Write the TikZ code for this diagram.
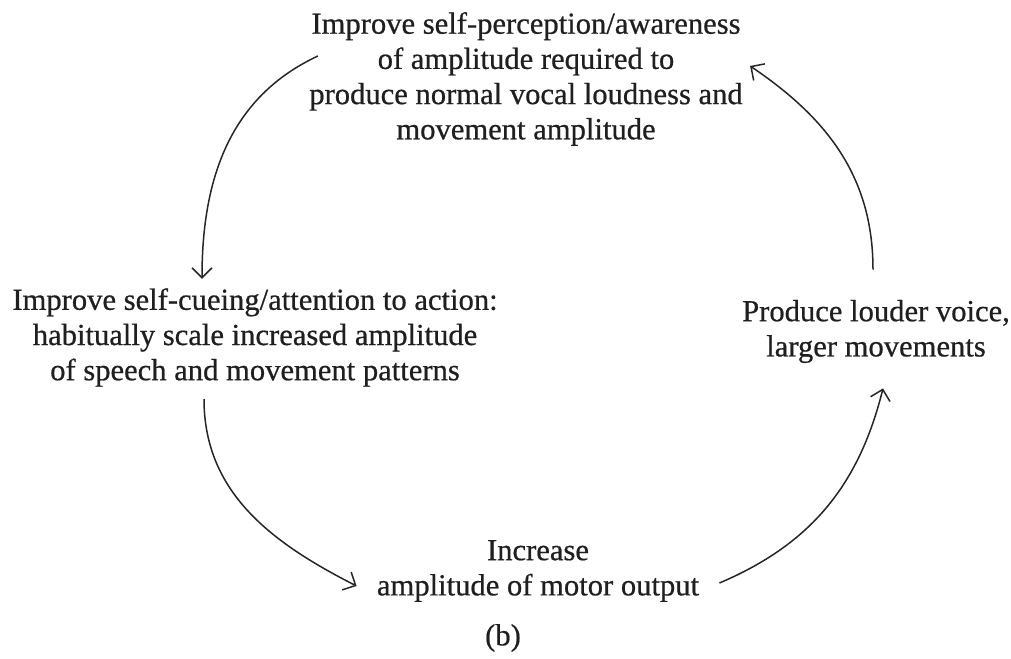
\documentclass[tikz,border=0pt]{standalone}
\usepackage{fontspec}
\setmainfont[FakeBold=0.6]{Liberation Serif}
\usetikzlibrary{arrows.meta}

\tikzset{
	stage/.style={align=center, inner sep=0pt, text=black!88, font=\fontsize{15.3}{17.6}\selectfont},
	looparrow/.style={-{Straight Barb[length=5pt, width=10pt]}, line width=0.75pt, color=black!85},
}

\begin{document}
\begin{tikzpicture}[x=0.5pt, y=0.5pt]
			%%%%% START %%%%%
			\useasboundingbox (0, 0) rectangle (1011, 658);
			
			\node[stage] (perceive) at (526, 579) {Improve self-perception/awareness\\of amplitude required to\\produce normal vocal loudness and\\movement amplitude};
			\node[stage] (cueing) at (255, 320.5) {Improve self-cueing/attention to action:\\habitually scale increased amplitude\\of speech and movement patterns};
			\node[stage] (louder) at (876, 326.5) {Produce louder voice,\\larger movements};
			\node[stage] (motor) at (538, 87) {Increase\\amplitude of motor output};
			
			\node[stage] (caption) at (503, 20) {(b)};
			
			%%%%% CYCLE %%%%%
			\draw[looparrow] ([xshift=4.5pt, yshift=11.5pt]perceive.west) to[out=205, in=90] ([xshift=-26.5pt, yshift=4.5pt]cueing.north);
			\draw[looparrow] ([xshift=-25.5pt, yshift=-6pt]cueing.south) to[out=-90, in=153] ([xshift=-10pt, yshift=-7.5pt]motor.west);
			\draw[looparrow] ([xshift=10pt, yshift=-6pt]motor.east) to[out=23, in=-104] ([xshift=3.5pt, yshift=-12.5pt]louder.south);
			\draw[looparrow] ([xshift=-1.5pt, yshift=15pt]louder.north) to[out=90, in=-34] ([xshift=3.5pt, yshift=6.5pt]perceive.east);
			
			%%%%% END %%%%%
\end{tikzpicture}
\end{document}
